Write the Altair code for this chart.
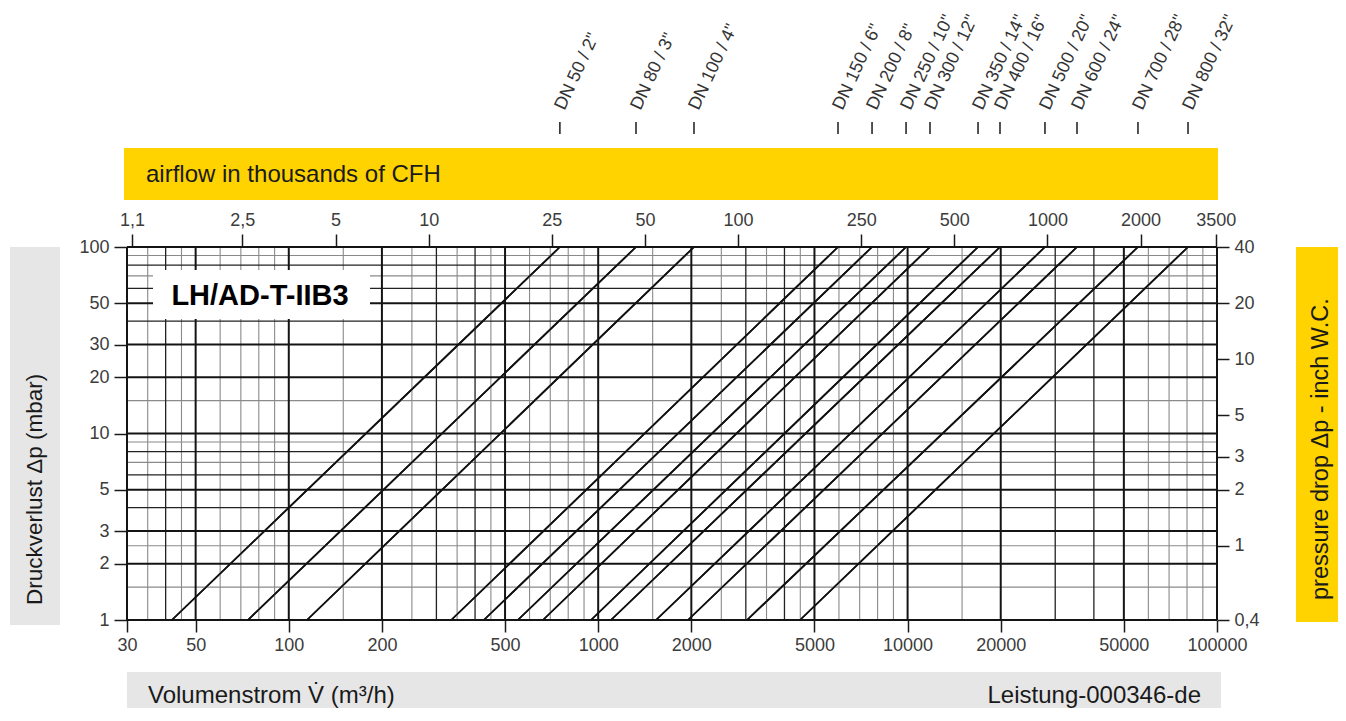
import altair as alt
import pandas as pd

# ---------------- data ----------------
dn_labels = ['DN 50 / 2"', 'DN 80 / 3"', 'DN 100 / 4"', 'DN 150 / 6"', 'DN 200 / 8"',
             'DN 250 / 10"', 'DN 300 / 12"', 'DN 350 / 14"', 'DN 400 / 16"',
             'DN 500 / 20"', 'DN 600 / 24"', 'DN 700 / 28"', 'DN 800 / 32"']
# volume flow (m3/h) where each line crosses 1 mbar and 100 mbar
flow_at_1mbar = [41.9, 73.8, 114.5, 335, 427, 550, 663, 948, 1100, 1538, 1951, 3027, 4490]
flow_at_100mbar = [752, 1325, 2040, 5958, 7675, 9886, 11814, 16890, 19890, 27800, 35280, 55530, 80600]

x_ticks_m3h = [30, 50, 100, 200, 500, 1000, 2000, 5000, 10000, 20000, 50000, 100000]
y_ticks_mbar = [1, 2, 3, 5, 10, 20, 30, 50, 100]
top_ticks_kcfh = [1.1, 2.5, 5, 10, 25, 50, 100, 250, 500, 1000, 2000, 3500]
right_ticks_inwc = [0.4, 1, 2, 3, 5, 10, 20, 40]

vgrid_major = [30, 50, 100, 200, 500, 1000, 2000, 5000, 10000, 20000, 50000, 100000]
vgrid_mid = [40, 300, 400, 3000, 4000, 30000, 40000]
vgrid_minor = [35, 45, 60, 70, 80, 90, 150, 250, 350, 450, 600, 700, 800, 900, 1500,
               2500, 3500, 4500, 6000, 7000, 8000, 9000, 15000, 60000, 70000, 80000, 90000]
hgrid_major = [1, 2, 3, 5, 10, 20, 30, 50, 100]
hgrid_mid = [4, 6, 8, 40, 60, 80]
hgrid_minor = [1.5, 2.5, 7, 9, 15, 70, 90]

X_MIN, X_MAX = 30, 100000
Y_MIN, Y_MAX = 1, 100
M3H_TO_KCFH = 0.0353147   # thousand ft3/h per m3/h
MBAR_TO_INWC = 0.4        # scale as printed: 0,4 inch W.C. <-> 1 mbar

FONT = "Liberation Sans"
W, H = 1090, 373

xs = alt.Scale(type="log", domain=[X_MIN, X_MAX], nice=False)
ys = alt.Scale(type="log", domain=[Y_MIN, Y_MAX], nice=False)
one = pd.DataFrame({"k": [0]})

axis_common = dict(title=None, grid=False, domain=False, tickColor="#1a1a1a", tickWidth=1.5,
                   labelFont=FONT, labelFontSize=18, labelColor="#3c3c3c",
                   labelFlush=False, labelOverlap=False, labelBound=False)

x_axis = alt.Axis(orient="bottom", values=x_ticks_m3h, format="d", tickSize=12, labelPadding=4,
                  **axis_common)
y_axis = alt.Axis(orient="left", values=y_ticks_mbar, format="d", tickSize=13, labelPadding=5,
                  **axis_common)


def X(field):
    return alt.X(field, scale=xs, axis=x_axis)


def Y(field):
    return alt.Y(field, scale=ys, axis=y_axis)


def vrules(vals, color, width):
    return alt.Chart(pd.DataFrame({"q": vals})).mark_rule(color=color, strokeWidth=width).encode(
        x=X("q:Q"))


def hrules(vals, color, width):
    return alt.Chart(pd.DataFrame({"p": vals})).mark_rule(color=color, strokeWidth=width).encode(
        y=Y("p:Q"))


def rect(x1, x2, y1, y2, color):
    return alt.Chart(one).mark_rect(color=color).encode(
        x=alt.value(x1), x2=alt.value(x2), y=alt.value(y1), y2=alt.value(y2))


def label(text, x, y, size, align="left", angle=0, weight="normal", color="#1a1a1a"):
    return alt.Chart(one).mark_text(text=text, font=FONT, fontSize=size, align=align,
                                    baseline="middle", angle=angle, fontWeight=weight,
                                    color=color).encode(x=alt.value(x), y=alt.value(y))


grid = [
    vrules(vgrid_minor, "#8a8a8a", 1.1),
    hrules(hgrid_minor, "#8a8a8a", 1.1),
    vrules(vgrid_mid, "#222222", 1.3),
    hrules(hgrid_mid, "#222222", 1.3),
    vrules(vgrid_major, "#141414", 2),
    hrules(hgrid_major, "#141414", 2),
]

lines_df = pd.DataFrame({
    "dn": dn_labels + dn_labels,
    "q": flow_at_1mbar + flow_at_100mbar,
    "dp": [Y_MIN] * len(dn_labels) + [Y_MAX] * len(dn_labels),
})

lines = alt.Chart(lines_df).mark_line(color="#111111", strokeWidth=1.7).encode(
    x=X("q:Q"),
    y=Y("dp:Q"),
    detail="dn:N",
    order="dp:Q",
)

top_df = pd.DataFrame({"dn": dn_labels, "q": flow_at_100mbar})
dn_ticks = alt.Chart(top_df).mark_rule(color="#1a1a1a", strokeWidth=1.5).encode(
    x=X("q:Q"), y=alt.value(-125), y2=alt.value(-113))
dn_text = alt.Chart(top_df).mark_text(angle=295, align="left", baseline="middle", font=FONT,
                                      fontSize=18, color="#333333").encode(
    x=X("q:Q"), y=alt.value(-138), text="dn:N")

decor = [
    rect(26, 243, 23, 72, "white"),
    label("LH/AD-T-IIB3", 133, 49, 29, align="center", weight="bold", color="#000000"),
    rect(-3, 1091, -99, -47, "#FFD300"),
    label("airflow in thousands of CFH", 19, -72, 24),
    rect(-117, -67, 0, 378, "#E6E6E6"),
    label("Druckverlust \u0394p (mbar)", -92, 358, 22.5, angle=270),
    rect(1169, 1211, 0, 375, "#FFD300"),
    label("pressure  drop \u0394p - inch W.C.", 1194, 353, 23.5, angle=270),
    rect(0, 1094, 425, 461, "#E6E6E6"),
    label("Volumenstrom V\u0307 (m\u00b3/h)", 21, 449, 24),
    label("Leistung-000346-de", 1074, 449, 24, align="right"),
]

main = alt.layer(lines, *grid, lines, *decor, dn_ticks, dn_text)

sec_df = pd.DataFrame({
    "kcfh": [X_MIN * M3H_TO_KCFH, X_MAX * M3H_TO_KCFH],
    "inwc": [Y_MIN * MBAR_TO_INWC, Y_MAX * MBAR_TO_INWC],
})
top_axis = alt.Axis(orient="top", values=top_ticks_kcfh, tickSize=13, labelPadding=5,
                    labelExpr="replace(toString(datum.value), '.', ',')", **axis_common)
right_axis = alt.Axis(orient="right", values=right_ticks_inwc, tickSize=12, labelPadding=5,
                      labelExpr="replace(toString(datum.value), '.', ',')", **axis_common)
secondary = alt.Chart(sec_df).mark_point(opacity=0).encode(
    x=alt.X("kcfh:Q", scale=alt.Scale(type="log", domain=[X_MIN * M3H_TO_KCFH, X_MAX * M3H_TO_KCFH], nice=False),
            axis=top_axis),
    y=alt.Y("inwc:Q", scale=alt.Scale(type="log", domain=[Y_MIN * MBAR_TO_INWC, Y_MAX * MBAR_TO_INWC], nice=False),
            axis=right_axis),
)

chart = alt.layer(main, secondary).resolve_scale(x="independent", y="independent").properties(
    width=W, height=H,
    padding={"left": 119, "top": 239, "right": 121, "bottom": 88},
    autosize=alt.AutoSizeParams(type="none"),
    background="white",
).configure_view(stroke=None)

chart.save("out.html", embed_options={"renderer": "svg", "actions": False})
